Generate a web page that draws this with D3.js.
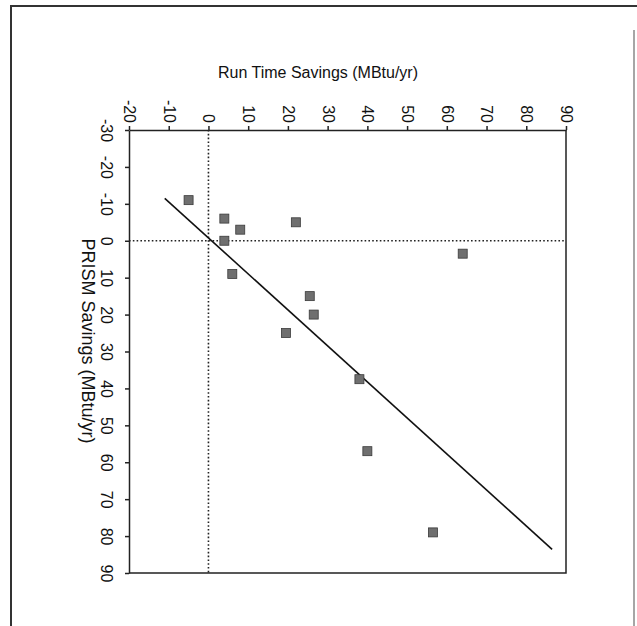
<!DOCTYPE html>
<html>
<head>
<meta charset="utf-8">
<script src="https://cdn.jsdelivr.net/npm/d3@7"></script>
<style>
  body { margin: 0; background: #fff; }
  text { font-family: "Liberation Sans", Arial, sans-serif; fill: #111; }
</style>
</head>
<body>
<div id="chart"></div>
<script>
// Run time savings (across the top) and PRISM savings (down the side), MBtu/yr
const runTime = [-5, 4, 8, 4, 22, 64, 6, 25.5, 26.5, 19.5, 38, 40, 56.5];
const prism   = [-11, -6, -3, 0, -5, 3.5, 9, 15, 20, 25, 37.5, 57, 79];

// ends of the fitted line
const fitRunTime = [-11, 86.5];
const fitPrism   = [-11.5, 83.6];

const runTimeTicks = [-20, -10, 0, 10, 20, 30, 40, 50, 60, 70, 80, 90];
const prismTicks   = [-30, -20, -10, 0, 10, 20, 30, 40, 50, 60, 70, 80, 90];

const W = 637, H = 626;
const svg = d3.select("#chart")
              .append("svg")
              .attr("width", W)
              .attr("height", H);

// outer frame of the scanned page
svg.append("path")
   .attr("d", "M11,626 L11,6 L637,6")
   .attr("fill", "none")
   .attr("stroke", "#333")
   .attr("stroke-width", 2);
svg.append("line")
   .attr("x1", 634).attr("x2", 634)
   .attr("y1", 30).attr("y2", 626)
   .attr("stroke", "#888")
   .attr("stroke-width", 1.5);

const x = d3.scaleLinear().domain([-20, 90]).range([129, 566]);
const y = d3.scaleLinear().domain([-30, 90]).range([130, 573]);
const fmt = d => String(d); // plain hyphen for negatives

// top axis (run time)
const topAxis = svg.append("g")
   .attr("transform", `translate(0,${y.range()[0]})`)
   .call(d3.axisTop(x).tickValues(runTimeTicks).tickFormat(fmt).tickSize(4).tickSizeOuter(0));
topAxis.selectAll("text")
   .attr("x", 0).attr("y", 0)
   .attr("dy", "0.35em")
   .attr("text-anchor", "end")
   .attr("transform", "translate(0,-7) rotate(90)");

// left axis (PRISM)
const leftAxis = svg.append("g")
   .attr("transform", `translate(${x.range()[0]},0)`)
   .call(d3.axisLeft(y).tickValues(prismTicks).tickFormat(fmt).tickSize(4).tickSizeOuter(0));
leftAxis.selectAll("text")
   .attr("x", 0).attr("y", 0)
   .attr("dy", "0.35em")
   .attr("text-anchor", "middle")
   .attr("transform", "translate(-22,0) rotate(90)");

svg.selectAll(".domain, .tick line")
   .attr("stroke", "#222")
   .attr("stroke-width", 1.5);
svg.selectAll(".tick text")
   .style("font-size", "16px")
   .attr("fill", "#111");

// right and bottom sides of the box
svg.append("path")
   .attr("d", `M${x.range()[1]},${y.range()[0]} L${x.range()[1]},${y.range()[1]} L${x.range()[0]},${y.range()[1]}`)
   .attr("fill", "none")
   .attr("stroke", "#222")
   .attr("stroke-width", 1.5);

// dotted zero lines
svg.append("line")
   .attr("x1", x(0)).attr("x2", x(0))
   .attr("y1", y.range()[0]).attr("y2", y.range()[1])
   .attr("stroke", "#222")
   .attr("stroke-width", 1.6)
   .attr("stroke-dasharray", "1.6,2.2");
svg.append("line")
   .attr("x1", x.range()[0]).attr("x2", x.range()[1])
   .attr("y1", y(0)).attr("y2", y(0))
   .attr("stroke", "#222")
   .attr("stroke-width", 1.6)
   .attr("stroke-dasharray", "1.6,2.2");

// fitted line
svg.append("line")
   .attr("x1", x(fitRunTime[0])).attr("y1", y(fitPrism[0]))
   .attr("x2", x(fitRunTime[1])).attr("y2", y(fitPrism[1]))
   .attr("stroke", "#111")
   .attr("stroke-width", 1.6);

// points
const data = runTime.map((r, i) => ({ r, p: prism[i] }));
const s = 9;
svg.selectAll(".pt")
   .data(data)
   .enter()
   .append("rect")
   .attr("class", "pt")
   .attr("x", d => x(d.r) - s / 2)
   .attr("y", d => y(d.p) - s / 2)
   .attr("width", s)
   .attr("height", s)
   .attr("fill", "#6f6f6f")
   .attr("stroke", "#3a3a3a")
   .attr("stroke-width", 0.8);

// axis titles
svg.append("text")
   .attr("x", 318)
   .attr("y", 78)
   .attr("text-anchor", "middle")
   .style("font-size", "16px")
   .text("Run Time Savings (MBtu/yr)");

svg.append("text")
   .attr("transform", "translate(88,341) rotate(90)")
   .attr("dy", "0.35em")
   .attr("text-anchor", "middle")
   .style("font-size", "18px")
   .text("PRISM Savings (MBtu/yr)");
</script>
</body>
</html>
